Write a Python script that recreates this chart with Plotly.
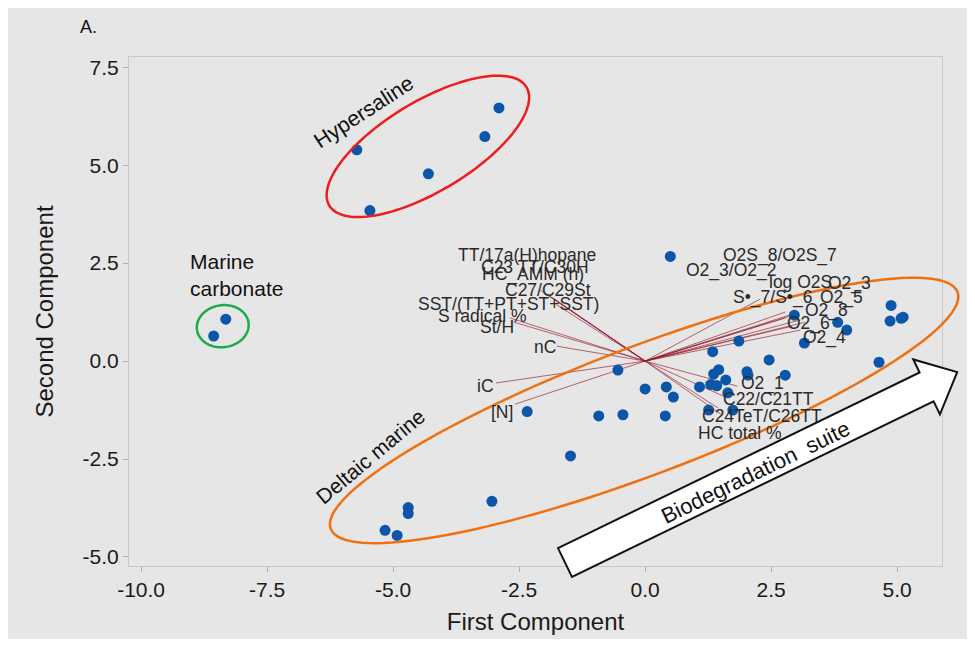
import numpy as np
import plotly.graph_objects as go

# ---------------- data ----------------
hyper_pc1 = [-5.72, -5.46, -4.30, -3.18, -2.90]
hyper_pc2 = [5.39, 3.84, 4.78, 5.73, 6.46]

carb_pc1 = [-8.56, -8.32]
carb_pc2 = [0.64, 1.07]

other_pc1 = [0.50, 4.88, 4.86, 5.08, 5.12, 2.96, 3.82, 4.00, 3.16, 1.86,
             1.34, 2.46, 4.64, -0.54, 0.00, 0.42, 0.56, 1.08, 1.30, 1.36,
             1.46, 1.42, 1.60, 1.64, 2.02, 2.04, 2.78, 1.26, 1.74, 0.40,
             -0.44, -0.92, -1.48, -2.34, -3.04, -4.70, -4.70, -5.16, -4.92]
other_pc2 = [2.67, 1.42, 1.02, 1.09, 1.12, 1.17, 0.99, 0.79, 0.46, 0.51,
             0.24, 0.03, -0.03, -0.23, -0.71, -0.66, -0.92, -0.66, -0.60, -0.33,
             -0.22, -0.63, -0.48, -0.81, -0.27, -0.36, -0.36, -1.25, -1.25, -1.40,
             -1.37, -1.40, -2.42, -1.29, -3.58, -3.74, -3.89, -4.32, -4.45]

load_names = ["TT/17a(H)hopane", "C23 TT/C30H", "HC_AMM (h)", "C27/C29St",
              "SST/(TT+PT+ST+SST)", "S radical %", "St/H", "nC", "iC", "[N]",
              "O2S_8/O2S_7", "O2_3/O2_2", "log O2S", "O2_3", "S\u2022_7/S\u2022_6",
              "O2_5", "O2_8", "O2_6", "O2_4", "O2_1", "C22/C21TT",
              "C24TeT/C26TT", "HC total %"]
load_x = [-2.08, -1.98, -1.92, -1.83, -1.75, -2.68, -2.60, -1.75, -2.96, -2.58,
          2.88, 2.78, 2.98, 3.08, 2.28, 3.17, 2.78, 2.92, 3.08, 1.83, 1.63,
          1.45, 1.53]
load_y = [1.81, 1.73, 1.68, 1.61, 1.43, 1.10, 0.99, 0.38, -0.56, -1.10,
          1.15, 1.10, 1.22, 1.05, 1.58, 0.99, 1.25, 0.89, 0.79, -0.64, -0.94,
          -1.20, -1.38]
label_x = [-2.34, -2.18, -2.22, -1.92, -2.72, -3.23, -2.94, -1.98, -3.17, -2.84,
           2.67, 1.71, 3.08, 4.05, 2.52, 3.89, 3.59, 3.25, 3.55, 2.32, 2.44,
           2.32, 1.88]
label_y = [2.70, 2.40, 2.22, 1.81, 1.45, 1.15, 0.87, 0.36, -0.64, -1.30,
           2.70, 2.30, 2.02, 1.99, 1.63, 1.63, 1.30, 0.97, 0.61, -0.56, -0.97,
           -1.40, -1.84]

x_ticks = [-10.0, -7.5, -5.0, -2.5, 0.0, 2.5, 5.0]
y_ticks = [-5.0, -2.5, 0.0, 2.5, 5.0, 7.5]

# ---------------- layout geometry ----------------
W, H = 975, 656
OFF = 8                      # page body offset of the rendered figure
ML, MR, MT, MB = 121, 41, 49, 98
PW, PH = W - ML - MR, H - MT - MB
XR = [-10.24, 5.89]
YR = [-5.23, 7.76]

FONT = "Arial, Liberation Sans, sans-serif"


def d2p(x, y):
    """data -> screen pixel"""
    px = OFF + ML + (x - XR[0]) / (XR[1] - XR[0]) * PW
    py = OFF + MT + (YR[1] - y) / (YR[1] - YR[0]) * PH
    return px, py


def p2paper(px, py):
    """screen pixel -> paper fraction"""
    return (px - OFF - ML) / PW, (OFF + MT + PH - py) / PH


def ellipse_path(cx, cy, a, b, ang):
    """centre in data units, semi-axes in px, angle in degrees (screen, ccw)"""
    pcx, pcy = d2p(cx, cy)
    t = np.linspace(0, 2 * np.pi, 140)
    th = np.radians(ang)
    ex = pcx + a * np.cos(t) * np.cos(th) - b * np.sin(t) * np.sin(th)
    ey = pcy - (a * np.cos(t) * np.sin(th) + b * np.sin(t) * np.cos(th))
    pts = [p2paper(u, v) for u, v in zip(ex, ey)]
    return "M " + " L ".join(f"{u:.5f},{v:.5f}" for u, v in pts) + " Z"


def block_arrow(tx, ty, length, ang, shaft_w, head_w, head_len):
    pcx, pcy = d2p(tx, ty)
    th = np.radians(ang)
    d = np.array([np.cos(th), -np.sin(th)])
    n = np.array([np.sin(th), np.cos(th)])
    base = np.array([pcx, pcy])
    hb = base + d * (length - head_len)
    pts = [base - n * shaft_w / 2, hb - n * shaft_w / 2, hb - n * head_w / 2,
           base + d * length, hb + n * head_w / 2, hb + n * shaft_w / 2,
           base + n * shaft_w / 2]
    pp = [p2paper(p[0], p[1]) for p in pts]
    return "M " + " L ".join(f"{u:.5f},{v:.5f}" for u, v in pp) + " Z"


fig = go.Figure()

# loading vectors
lx, ly = [], []
for ex, ey in zip(load_x, load_y):
    lx += [0, ex, None]
    ly += [0, ey, None]
fig.add_trace(go.Scatter(x=lx, y=ly, mode="lines",
                         line=dict(color="rgba(150,25,40,0.65)", width=1),
                         hoverinfo="skip", showlegend=False))

# scores
marker = dict(color="#0b56a8", size=11)
for px_, py_ in [(hyper_pc1, hyper_pc2), (carb_pc1, carb_pc2), (other_pc1, other_pc2)]:
    fig.add_trace(go.Scatter(x=px_, y=py_, mode="markers", marker=marker,
                             showlegend=False))

annotations = []
for name, x, y in zip(load_names, label_x, label_y):
    annotations.append(dict(x=x, y=y, xref="x", yref="y", text=name,
                            showarrow=False, xanchor="center", yanchor="middle",
                            font=dict(family=FONT, size=17.5, color="#2a2a2a")))


def add_text(sx, sy, text, size, angle=0, xanchor="center", align="center"):
    gx, gy = p2paper(sx, sy)
    annotations.append(dict(x=gx, y=gy, xref="paper", yref="paper", text=text,
                            textangle=angle, showarrow=False, xanchor=xanchor,
                            yanchor="middle", align=align,
                            font=dict(family=FONT, size=size, color="#111")))


add_text(364, 112, "Hypersaline", 21.5, -33)
add_text(188, 275, "Marine<br>carbonate", 21, 0, xanchor="left", align="left")
add_text(370, 456, "Deltaic marine", 21, -40)
add_text(755, 472, "Biodegradation  suite", 22, -26)
add_text(78, 27, "A.", 18, 0, xanchor="left")

# background panel
x0p, y1p = p2paper(7, 7)
x1p, y0p = p2paper(985, 639)
shapes = [dict(type="rect", xref="paper", yref="paper", x0=x0p, x1=x1p,
               y0=y0p, y1=y1p, fillcolor="#e6e6e6", line=dict(width=0),
               layer="below")]

shapes.append(dict(type="path", xref="paper", yref="paper",
                   path=ellipse_path(-4.31, 5.48, 115, 45, 31),
                   line=dict(color="#ee1c1c", width=2.5)))
shapes.append(dict(type="path", xref="paper", yref="paper",
                   path=ellipse_path(-8.38, 0.89, 26, 21, 8),
                   line=dict(color="#1aaa4a", width=2.5)))
shapes.append(dict(type="path", xref="paper", yref="paper",
                   path=ellipse_path(-0.02, -1.26, 335, 64, 20.7),
                   line=dict(color="#f07010", width=2.5)))
shapes.append(dict(type="path", xref="paper", yref="paper",
                   path=block_arrow(-1.59, -5.14, 436, 25.9, 32, 61, 34),
                   fillcolor="white", line=dict(color="#111", width=2)))

axis_common = dict(showgrid=False, zeroline=False, showline=True, mirror=True,
                   linecolor="#c8c8c8", linewidth=1, ticks="outside", ticklen=5,
                   tickcolor="#b0b0b0",
                   tickfont=dict(family=FONT, size=21, color="#1a1a1a"))

fig.update_layout(
    width=W, height=H,
    margin=dict(l=ML, r=MR, t=MT, b=MB),
    paper_bgcolor="white", plot_bgcolor="white",
    showlegend=False,
    xaxis=dict(range=XR, tickvals=x_ticks, ticktext=[f"{v:.1f}" for v in x_ticks],
               title=dict(text="First Component", standoff=12,
                          font=dict(family=FONT, size=24, color="#1a1a1a")),
               **axis_common),
    yaxis=dict(range=YR, tickvals=y_ticks, ticktext=[f"{v:.1f}" for v in y_ticks],
               title=dict(text="Second Component", standoff=22,
                          font=dict(family=FONT, size=24, color="#1a1a1a")),
               **axis_common),
    annotations=annotations,
    shapes=shapes,
)

fig.write_html("out.html")
